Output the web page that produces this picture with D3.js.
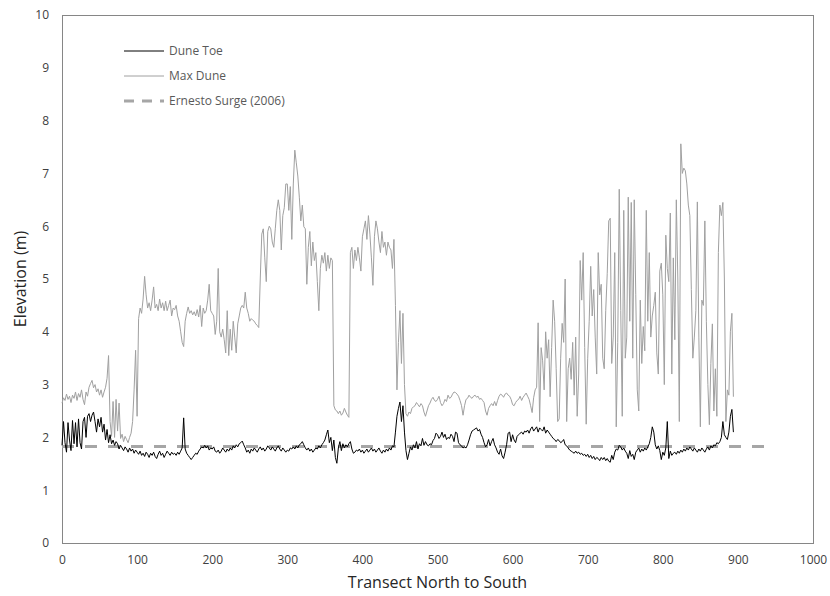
<!DOCTYPE html>
<html>
<head>
<meta charset="utf-8">
<script src="https://cdn.jsdelivr.net/npm/d3@7"></script>
<style>
  html, body { margin: 0; padding: 0; background: #fff; }
  svg { display: block; font-family: "Open Sans", "Noto Sans", sans-serif; }
</style>
</head>
<body>
<svg id="chart" width="830" height="596"></svg>
<script>
// Transect sampled every 2 units, north (0) to south (894)
const transectStep = 2;

// Dune toe elevation (m)
const duneToe = [
  1.85,2.3,1.9,1.72,2.28,1.95,1.75,2.32,1.88,2.28,1.82,2.35,1.9,1.78,2.3,2.38,2.0,2.4,2.45,2.3,2.42,2.48,2.3,2.1,2.35,
  2.2,2.38,2.1,2.25,1.95,2.15,1.9,2.05,1.88,1.95,1.85,1.92,1.88,1.78,1.85,1.8,1.75,1.82,1.78,1.72,1.8,1.74,1.78,1.7,1.76,
  1.72,1.68,1.74,1.66,1.7,1.64,1.72,1.68,1.62,1.7,1.66,1.72,1.64,1.6,1.68,1.74,1.66,1.7,1.62,1.68,1.74,1.7,1.66,1.72,1.68,
  1.7,1.66,1.72,1.68,1.74,1.8,2.37,1.78,1.7,1.66,1.62,1.58,1.62,1.66,1.7,1.68,1.74,1.78,1.82,1.8,1.85,1.8,1.84,1.76,1.8,
  1.78,1.82,1.74,1.72,1.76,1.7,1.74,1.8,1.76,1.72,1.78,1.74,1.8,1.76,1.84,1.8,1.86,1.82,1.88,1.9,1.93,1.86,1.8,1.72,1.76,
  1.7,1.78,1.74,1.8,1.76,1.72,1.78,1.82,1.76,1.8,1.74,1.78,1.84,1.8,1.76,1.82,1.78,1.74,1.8,1.84,1.78,1.74,1.8,1.76,1.72,
  1.76,1.74,1.8,1.78,1.82,1.78,1.84,1.8,1.86,1.88,1.92,1.86,1.8,1.76,1.8,1.74,1.78,1.72,1.76,1.8,1.78,1.84,1.8,1.86,1.9,
  1.95,2.05,2.14,1.9,2.0,1.75,1.95,1.62,1.51,1.8,1.92,1.75,1.88,1.8,1.86,1.82,1.88,1.92,1.78,1.7,1.72,1.76,1.74,1.78,1.72,
  1.76,1.7,1.74,1.78,1.72,1.76,1.8,1.74,1.78,1.72,1.76,1.8,1.74,1.7,1.76,1.72,1.78,1.74,1.8,1.76,1.84,1.82,2.1,2.4,2.55,
  2.67,2.3,2.6,2.1,1.75,1.58,1.7,1.82,1.76,1.86,1.8,1.92,1.78,1.88,1.84,1.98,1.85,1.92,1.86,1.84,1.88,1.86,1.94,1.98,2.08,
  2.05,1.98,2.02,2.1,2.0,2.06,1.96,2.0,1.98,2.06,2.02,1.92,2.1,2.08,1.9,1.86,1.84,1.8,1.82,1.8,1.86,1.95,2.05,2.12,2.14,
  2.16,2.18,2.12,2.15,2.06,2.0,1.9,1.82,1.86,1.96,1.84,1.92,1.98,1.86,1.8,1.72,1.68,1.78,1.65,1.6,1.72,1.86,2.08,2.1,1.92,
  2.05,1.95,1.9,2.02,2.05,2.08,2.1,2.06,2.12,2.1,2.14,2.08,2.16,2.2,2.12,2.16,2.2,2.1,2.18,2.15,2.12,2.2,2.08,2.14,2.1,
  2.06,2.02,1.98,1.96,1.92,1.96,1.94,1.9,1.92,1.96,1.86,1.84,1.8,1.76,1.74,1.72,1.7,1.74,1.7,1.72,1.68,1.7,1.66,1.68,1.64,
  1.68,1.62,1.66,1.6,1.64,1.58,1.62,1.6,1.56,1.62,1.58,1.62,1.56,1.6,1.55,1.53,1.66,1.58,1.72,1.78,1.76,1.85,1.82,1.76,1.8,
  1.74,1.7,1.6,1.75,1.64,1.68,1.58,1.72,1.76,1.8,1.72,1.78,1.74,1.8,1.76,1.82,1.88,2.0,2.2,2.1,1.86,1.78,1.84,1.75,1.58,
  1.72,1.66,1.8,2.3,1.6,1.74,1.66,1.7,1.72,1.68,1.74,1.7,1.76,1.72,1.78,1.74,1.8,1.76,1.82,1.78,1.74,1.8,1.76,1.72,1.78,
  1.74,1.8,1.76,1.72,1.78,1.82,1.76,1.84,1.8,1.86,1.84,1.9,1.88,1.92,2.0,2.3,2.05,2.0,1.96,2.1,2.4,2.53,2.1
];

// Maximum dune crest elevation (m)
const maxDune = [
  2.65,2.75,2.7,2.82,2.72,2.78,2.66,2.8,2.74,2.86,2.7,2.83,2.76,2.9,2.72,2.62,2.86,2.78,2.95,3.02,3.08,2.94,3.0,2.86,2.92,
  2.8,2.9,2.76,2.86,2.95,3.12,3.55,2.3,2.02,2.68,2.0,2.72,2.12,2.65,1.98,2.06,1.92,2.02,1.96,1.9,2.0,2.08,2.3,2.9,3.65,
  2.4,4.25,4.45,4.35,4.62,5.05,4.7,4.45,4.55,4.4,4.6,4.85,4.45,4.52,4.4,4.62,4.45,4.55,4.4,4.58,4.4,4.5,4.6,4.3,4.45,
  4.42,4.5,4.3,4.2,4.0,3.8,3.72,4.2,4.35,4.47,4.35,4.4,4.32,4.38,4.3,4.42,4.28,4.5,4.1,4.45,4.35,4.4,4.6,4.9,4.4,
  4.35,4.3,3.95,4.2,5.2,4.0,3.9,4.05,3.85,3.6,4.4,3.55,4.05,3.65,4.2,3.9,3.6,4.15,4.3,4.45,4.5,4.45,4.75,4.45,4.35,
  4.2,4.25,4.22,4.2,4.15,4.12,4.08,5.0,5.85,5.95,5.4,4.95,5.9,6.0,5.95,5.7,5.6,5.95,6.3,6.5,6.3,5.55,6.2,6.35,6.8,
  6.8,6.3,6.75,5.75,6.8,7.44,7.2,6.95,6.55,6.1,6.4,5.99,5.95,4.9,5.6,5.9,5.25,5.7,5.35,5.5,4.95,4.4,5.2,5.45,5.3,
  5.5,5.15,5.45,5.2,5.4,5.35,2.6,2.52,2.5,2.45,2.5,2.42,2.46,2.55,2.48,2.42,2.38,5.5,5.6,5.2,5.55,5.35,5.6,5.4,5.15,
  5.8,5.95,6.1,5.75,6.2,5.85,5.4,4.88,5.8,6.1,5.95,5.7,5.5,5.9,5.6,5.7,5.45,5.7,5.6,5.55,5.2,5.75,4.5,2.9,3.8,
  4.4,3.4,4.35,3.0,2.45,2.4,2.48,2.45,2.55,2.58,2.6,2.66,2.62,2.58,2.64,2.6,2.48,2.4,2.5,2.6,2.65,2.72,2.76,2.7,2.68,
  2.72,2.78,2.66,2.6,2.64,2.72,2.68,2.8,2.74,2.76,2.82,2.86,2.85,2.82,2.78,2.7,2.6,2.42,2.6,2.72,2.74,2.8,2.76,2.74,2.78,
  2.8,2.76,2.78,2.72,2.74,2.7,2.66,2.5,2.42,2.55,2.6,2.64,2.6,2.68,2.6,2.7,2.78,2.82,2.8,2.76,2.82,2.84,2.8,2.78,2.72,
  2.62,2.6,2.66,2.7,2.72,2.78,2.7,2.76,2.8,2.84,2.78,2.72,2.6,2.47,2.75,2.9,2.95,4.17,2.3,3.7,3.45,2.9,4.0,3.5,3.85,
  2.77,3.7,4.6,4.2,3.3,2.3,2.35,3.5,4.16,3.8,5.0,2.3,3.3,3.5,3.1,3.8,2.8,3.9,2.4,3.2,5.35,4.6,5.5,3.7,2.25,
  3.5,4.2,5.24,4.3,4.8,3.9,3.2,5.5,4.7,4.9,3.5,3.3,4.4,5.1,6.1,6.15,3.4,3.9,5.5,2.2,3.8,6.7,4.4,2.4,6.3,
  3.5,3.9,6.55,4.2,6.45,3.5,6.5,4.7,2.9,2.5,4.6,3.4,4.1,3.64,6.3,4.2,5.5,3.9,4.3,4.5,4.75,3.6,3.2,5.15,5.3,
  4.7,3.0,5.83,5.2,4.95,6.25,3.2,5.4,3.85,6.5,5.0,2.3,7.56,7.0,7.1,7.05,6.8,6.4,6.2,4.8,3.5,3.9,4.4,6.46,3.9,
  2.2,4.6,4.5,6.1,4.2,3.0,2.24,3.4,4.15,2.5,3.3,2.4,5.5,6.4,6.2,6.45,5.0,2.3,2.9,2.8,4.0,4.35,2.77
];

// Ernesto (2006) storm surge level (m) and the transect span it is drawn over
const surgeLevel = 1.83;
const surgeSpan = [0, 940];

// Axis ticks
const xTicks = [0, 100, 200, 300, 400, 500, 600, 700, 800, 900, 1000];
const yTicks = [0, 1, 2, 3, 4, 5, 6, 7, 8, 9, 10];

// Legend entries
const legendLabels = ["Dune Toe", "Max Dune", "Ernesto Surge (2006)"];

const svg = d3.select("#chart");
const plot = { left: 62, top: 15, right: 813, bottom: 543 };

const x = d3.scaleLinear().domain([0, 1000]).range([plot.left, plot.right]);
const y = d3.scaleLinear().domain([0, 10]).range([plot.bottom, plot.top]);

const tickColor = "#404040";
const titleColor = "#262626";
const legendColor = "#595959";
const axisColor = "#868686";

// Plot frame
svg.append("rect")
  .attr("x", plot.left).attr("y", plot.top)
  .attr("width", plot.right - plot.left).attr("height", plot.bottom - plot.top)
  .attr("fill", "none").attr("stroke", axisColor).attr("stroke-width", 1)
  .attr("shape-rendering", "crispEdges");

// Axes (labels only, no tick marks)
const xAxis = svg.append("g")
  .attr("transform", `translate(0,${plot.bottom})`)
  .call(d3.axisBottom(x).tickValues(xTicks).tickSize(0).tickPadding(12).tickFormat(d3.format("d")));
const yAxis = svg.append("g")
  .attr("transform", `translate(${plot.left},0)`)
  .call(d3.axisLeft(y).tickValues(yTicks).tickSize(0).tickPadding(13).tickFormat(d3.format("d")));
[xAxis, yAxis].forEach(g => {
  g.select(".domain").remove();
  g.selectAll("text").attr("fill", tickColor).style("font-size", "12px")
    .style("font-family", "'Open Sans', sans-serif");
});

// Axis titles
svg.append("text")
  .attr("x", (plot.left + plot.right) / 2).attr("y", 588)
  .attr("text-anchor", "middle").attr("fill", titleColor)
  .style("font-size", "16px")
  .text("Transect North to South");
svg.append("text")
  .attr("transform", `translate(26,${(plot.top + plot.bottom) / 2}) rotate(-90)`)
  .attr("text-anchor", "middle").attr("fill", titleColor)
  .style("font-size", "16px")
  .text("Elevation (m)");

// Surge level
svg.append("line")
  .attr("x1", x(surgeSpan[0])).attr("x2", x(surgeSpan[1]))
  .attr("y1", y(surgeLevel)).attr("y2", y(surgeLevel))
  .attr("stroke", "#a6a6a6").attr("stroke-width", 3)
  .attr("stroke-dasharray", "12,11");

const line = d3.line()
  .x((d, i) => x(i * transectStep))
  .y(d => y(d));

svg.append("path").datum(maxDune)
  .attr("d", line).attr("fill", "none")
  .attr("stroke", "#a0a0a0").attr("stroke-width", 1);

svg.append("path").datum(duneToe)
  .attr("d", line).attr("fill", "none")
  .attr("stroke", "#000").attr("stroke-width", 1);

// Legend
const legendStyles = [
  { stroke: "#000", width: 1, dash: null },
  { stroke: "#a0a0a0", width: 1, dash: null },
  { stroke: "#a6a6a6", width: 3, dash: "10,8" }
];
const legend = svg.append("g");
legendLabels.forEach((label, i) => {
  const ly = 51 + i * 25;
  legend.append("line")
    .attr("x1", 124).attr("x2", 164).attr("y1", ly).attr("y2", ly)
    .attr("stroke", legendStyles[i].stroke)
    .attr("stroke-width", legendStyles[i].width)
    .attr("stroke-dasharray", legendStyles[i].dash);
  legend.append("text")
    .attr("x", 169).attr("y", ly + 4)
    .attr("fill", legendColor).style("font-size", "12px")
    .text(label);
});
</script>
</body>
</html>
